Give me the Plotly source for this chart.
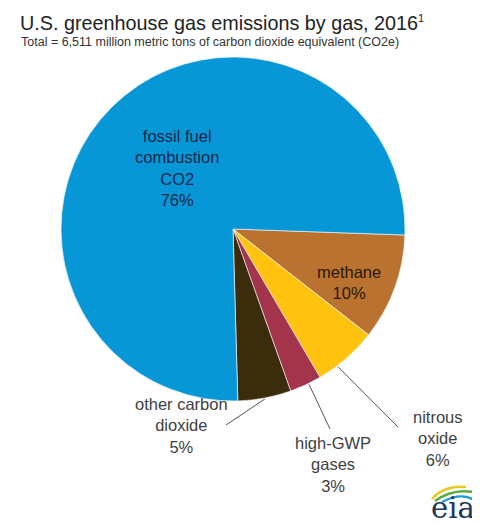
import math
import plotly.graph_objects as go

# ---------------- data ----------------
categories = ["methane", "nitrous oxide", "high-GWP gases", "other carbon dioxide",
              "fossil fuel combustion CO2"]
shares = [10, 6, 3, 5, 76]
label_lines = [["methane"], ["nitrous", "oxide"], ["high-GWP", "gases"],
               ["other carbon", "dioxide"], ["fossil fuel", "combustion", "CO2"]]
title_text = "U.S. greenhouse gas emissions by gas, 2016<sup><span style='font-size:11px'>1</span></sup>"
subtitle_text = "Total = 6,511 million metric tons of carbon dioxide equivalent (CO2e)"

# ---------------- style ----------------
W, H = 480, 524
CX, CY, R = 225, 221, 172
ROT = 92
slice_colors = ["#B9722F", "#FFC20E", "#A3344B", "#3B2C0C", "#0897D6"]
text_colors = ["#2A1808", "#404040", "#404040", "#404040", "#13284A"]
# centre (px) of each label block
label_pos = [(341, 274), (430, 430), (325, 456), (173, 417), (169, 160)]
# leader lines: fraction through slice where line starts, end point (px)
leaders = {1: (0.68, (390, 419)), 2: (0.40, (322, 421)), 3: (0.50, (218, 417))}
FONT = "Liberation Sans, Arial, sans-serif"
LABEL_SIZE = 16.5


def px(x, y):
    return x / W, 1 - y / H


fig = go.Figure(go.Pie(
    labels=categories, values=shares, sort=False, direction="clockwise",
    rotation=ROT, textinfo="none", hoverinfo="label+percent",
    marker=dict(colors=slice_colors, line=dict(color="white", width=0.6)),
    domain=dict(x=[(CX - R) / W, (CX + R) / W], y=[1 - (CY + R) / H, 1 - (CY - R) / H]),
    showlegend=False,
))

annotations = []
# title & subtitle
annotations.append(dict(text=title_text, x=px(10, 0)[0], y=px(0, 15)[1], xref="paper", yref="paper",
                        xanchor="left", yanchor="middle", showarrow=False,
                        font=dict(family=FONT, size=19.8, color="#222222")))
annotations.append(dict(text=subtitle_text, x=px(11, 0)[0], y=px(0, 34)[1], xref="paper", yref="paper",
                        xanchor="left", yanchor="middle", showarrow=False,
                        font=dict(family=FONT, size=12.5, color="#333333")))

# slice labels (category lines + percent line)
for i, (lines, v) in enumerate(zip(label_lines, shares)):
    x0, y0 = label_pos[i]
    xx, yy = px(x0, y0)
    annotations.append(dict(text="<br>".join(lines + [f"{v}%"]), x=xx, y=yy,
                            xref="paper", yref="paper", align="center",
                            xanchor="center", yanchor="middle", showarrow=False,
                            font=dict(family=FONT, size=LABEL_SIZE, color=text_colors[i])))

# logo text
annotations.append(dict(text="eia", x=px(445, 0)[0], y=px(0, 500)[1], xref="paper", yref="paper",
                        xanchor="center", yanchor="middle", showarrow=False,
                        font=dict(family="DejaVu Serif, serif", size=29, color="#1B365D")))

shapes = []
total = sum(shares)
for i, (frac, (ex, ey)) in leaders.items():
    start = sum(shares[:i]) / total
    ang = math.radians(ROT + 360 * (start + frac * shares[i] / total))
    sx = CX + (R + 1) * math.sin(ang)
    sy = CY - (R + 1) * math.cos(ang)
    x0, y0 = px(sx, sy)
    x1, y1 = px(ex, ey)
    shapes.append(dict(type="line", xref="paper", yref="paper", x0=x0, y0=y0, x1=x1, y1=y1,
                       line=dict(color="#555555", width=1)))


def path(pts):
    (a, b), (c, d), (e, f) = [px(x, y) for x, y in pts]
    return f"M {a},{b} Q {c},{d} {e},{f}"


swoosh = [("#E6CB1E", [(424, 491), (436, 477), (458, 479)]),
          ("#5BAA3C", [(427, 493), (446, 479), (470, 485)]),
          ("#1E9BD7", [(434, 494), (459, 481), (472, 498)])]
for col, pts in swoosh:
    shapes.append(dict(type="path", xref="paper", yref="paper", path=path(pts),
                       line=dict(color=col, width=2.4)))

fig.update_layout(width=W, height=H, margin=dict(l=0, r=0, t=0, b=0),
                  paper_bgcolor="white", plot_bgcolor="white",
                  annotations=annotations, shapes=shapes)
fig.write_html("out.html")
